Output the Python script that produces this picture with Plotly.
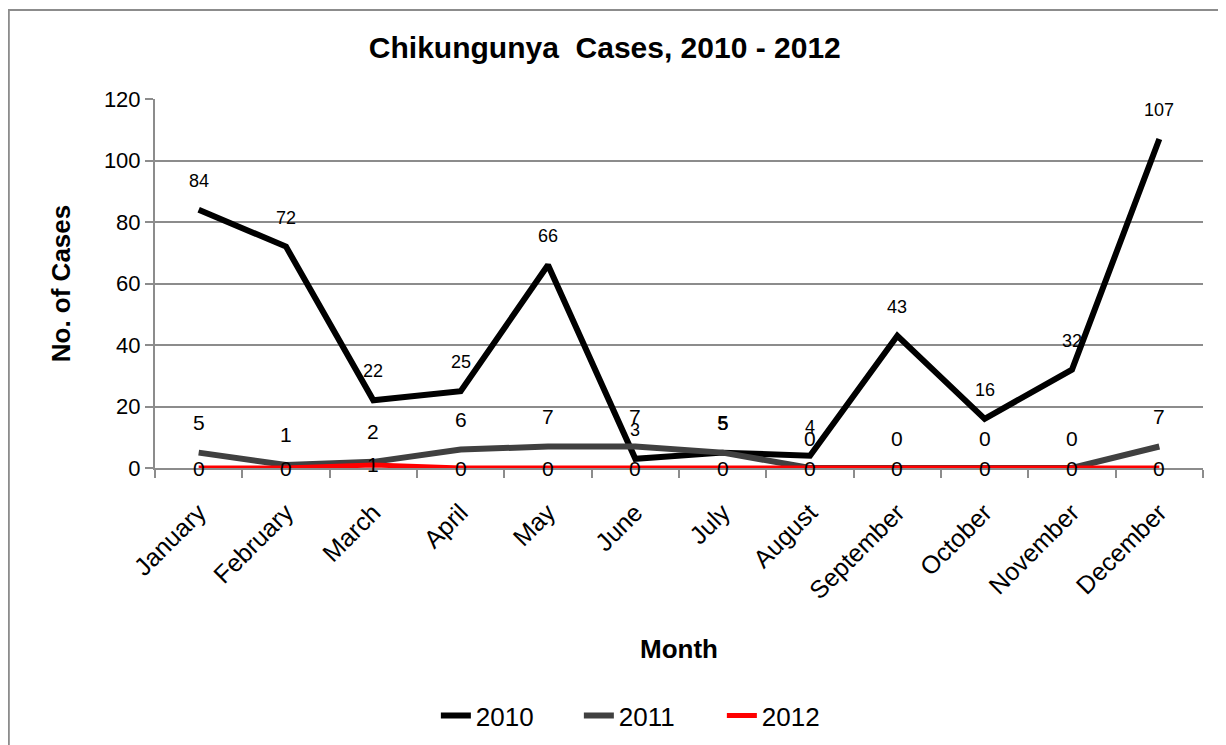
import plotly.graph_objects as go

months = ["January", "February", "March", "April", "May", "June", "July",
          "August", "September", "October", "November", "December"]
cases_2010 = [84, 72, 22, 25, 66, 3, 5, 4, 43, 16, 32, 107]
cases_2011 = [5, 1, 2, 6, 7, 7, 5, 0, 0, 0, 0, 7]
cases_2012 = [0, 0, 1, 0, 0, 0, 0, 0, 0, 0, 0, 0]
y_ticks = [0, 20, 40, 60, 80, 100, 120]

FONT = "Liberation Sans, Arial, sans-serif"
GRID = "#8c8c8c"

fig = go.Figure()
series = [
    ("2010", cases_2010, "#000000", 6),
    ("2011", cases_2011, "#404040", 6),
    ("2012", cases_2012, "#ff0000", 5),
]
for name, vals, color, w in series:
    fig.add_trace(go.Scatter(x=months, y=vals, name=name, mode="lines",
                             line=dict(color=color, width=w)))

# data labels
for vals, shift, size in [(cases_2010, 29, 18), (cases_2011, 30, 21), (cases_2012, 0, 21)]:
    for m, v in zip(months, vals):
        fig.add_annotation(x=m, y=v, text=str(v), showarrow=False, yshift=shift,
                           font=dict(family=FONT, size=size, color="#000000"))

fig.add_shape(type="rect", xref="paper", yref="paper",
              x0=-0.1395, x1=1.2, y0=-1.0, y1=1.2412,
              line=dict(color=GRID, width=2), layer="below")

fig.update_layout(
    width=1218, height=737,
    margin=dict(l=147, r=23, t=91, b=277),
    paper_bgcolor="white", plot_bgcolor="white",
    font=dict(family=FONT, color="#000000"),
    title=dict(text="<b>Chikungunya  Cases, 2010 - 2012</b>", x=0.490, xanchor="center",
               y=0.947, yanchor="middle", font=dict(size=30, family=FONT)),
    legend=dict(orientation="h", x=0.268, xanchor="left", y=0.04, yref="container",
                yanchor="middle", font=dict(size=26, family=FONT),
                entrywidth=98, entrywidthmode="pixels",
                traceorder="normal"),
    showlegend=True,
)
fig.update_xaxes(
    type="category", range=[-0.5, 11.5], tickangle=-45, tickfont=dict(size=25, family=FONT),
    ticks="outside", tickson="boundaries", ticklen=8, tickcolor=GRID, tickwidth=2,
    ticklabelstandoff=18,
    showline=True, linecolor=GRID, linewidth=2, showgrid=False,
    title=dict(text="<b>Month</b>", font=dict(size=26, family=FONT), standoff=36),
)
fig.update_yaxes(
    range=[0, 120], tickvals=y_ticks, tickfont=dict(size=22, family=FONT),
    ticks="outside", ticklen=8, tickcolor=GRID, tickwidth=2,
    showline=True, linecolor=GRID, linewidth=2,
    showgrid=True, gridcolor=GRID, gridwidth=2, zeroline=False,
    title=dict(text="<b>No. of Cases</b>", font=dict(size=26, family=FONT), standoff=26),
)

fig.write_html("out.html")
